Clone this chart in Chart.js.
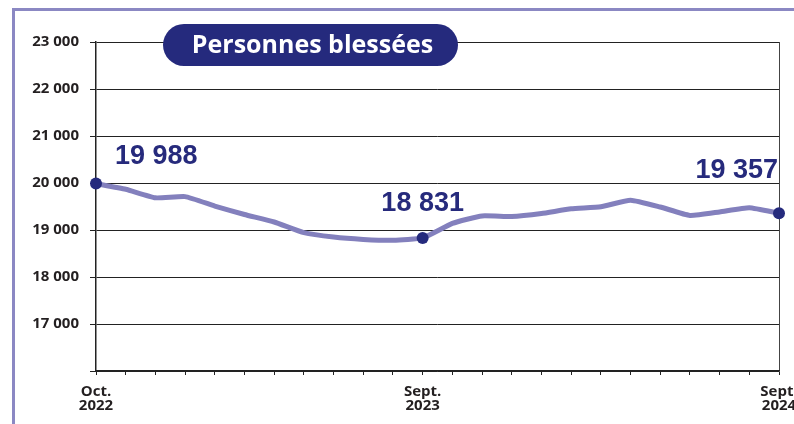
<!DOCTYPE html>
<html>
<head>
<meta charset="utf-8">
<script src="https://cdn.jsdelivr.net/npm/chart.js@4.4.1/dist/chart.umd.min.js"></script>
<style>
  html, body { margin: 0; padding: 0; background: #fff; }
  #wrap { position: relative; width: 794px; height: 424px; overflow: hidden; }
  #cadre { position: absolute; left: 12px; top: 8px; width: 800px; height: 430px;
           border-left: 3px solid #8b88c3; border-top: 3px solid #8b88c3; }
  canvas { position: absolute; left: 0; top: 0; }
</style>
</head>
<body>
<div id="wrap">
  <div id="cadre"></div>
  <canvas id="graphique" width="794" height="424"></canvas>
</div>
<script>
// Données : personnes blessées (cumul sur 12 mois glissants)
const mois = ['Oct. 2022', 'Nov. 2022', 'Déc. 2022', 'Janv. 2023', 'Févr. 2023', 'Mars 2023',
  'Avr. 2023', 'Mai 2023', 'Juin 2023', 'Juil. 2023', 'Août 2023', 'Sept. 2023',
  'Oct. 2023', 'Nov. 2023', 'Déc. 2023', 'Janv. 2024', 'Févr. 2024', 'Mars 2024',
  'Avr. 2024', 'Mai 2024', 'Juin 2024', 'Juil. 2024', 'Août 2024', 'Sept. 2024'];

const blesses = [19988, 19866, 19685, 19710, 19510, 19330, 19170, 18945, 18850, 18800, 18780, 18831,
  19140, 19300, 19285, 19350, 19450, 19495, 19635, 19490, 19310, 19385, 19475, 19357];

// libellés affichés sous l'axe
const etiquettesX = { 0: ['Oct.', '2022'], 11: ['Sept.', '2023'], 23: ['Sept.', '2024'] };
// points mis en valeur
const pointsCles = [0, 11, 23];

const titre = 'Personnes blessées';

function formatNombre(v) {
  return String(v).replace(/\B(?=(\d{3})+(?!\d))/g, ' ');
}

const pluginDecor = {
  id: 'decor',
  afterDraw(chart) {
    const c = chart.ctx;
    const meta = chart.getDatasetMeta(0);

    // valeurs des points clés
    c.save();
    c.fillStyle = '#262a7c';
    c.font = 'bold 27px "Liberation Sans", Arial, sans-serif';
    c.textBaseline = 'alphabetic';
    pointsCles.forEach((i, k) => {
      const p = meta.data[i];
      const txt = formatNombre(blesses[i]);
      if (k === 0) {
        c.textAlign = 'left';
        c.fillText(txt, p.x + 19, p.y - 20);
      } else if (k === pointsCles.length - 1) {
        c.textAlign = 'right';
        c.fillText(txt, p.x - 1, p.y - 35);
      } else {
        c.textAlign = 'center';
        c.fillText(txt, p.x, p.y - 27);
      }
    });
    c.restore();

    // cartouche du titre
    c.save();
    const x0 = 163, y0 = 24, w = 295, h = 42, r = 21;
    c.fillStyle = '#252a7d';
    c.beginPath();
    c.roundRect(x0, y0, w, h, r);
    c.fill();
    c.fillStyle = '#ffffff';
    c.font = 'bold 25px "Open Sans", sans-serif';
    c.textAlign = 'center';
    c.textBaseline = 'middle';
    c.fillText(titre, x0 + w / 2 + 2, y0 + h / 2 + 1);
    c.restore();
  }
};

const ctx = document.getElementById('graphique').getContext('2d');

new Chart(ctx, {
  type: 'line',
  data: {
    labels: mois,
    datasets: [{
      data: blesses,
      borderColor: '#8380bd',
      borderWidth: 5,
      borderJoinStyle: 'round',
      borderCapStyle: 'round',
      tension: 0.15,
      pointRadius: c => pointsCles.includes(c.dataIndex) ? 6 : 0,
      pointBackgroundColor: '#252a7d',
      pointBorderWidth: 0,
      clip: false
    }]
  },
  options: {
    responsive: false,
    animation: false,
    layout: { padding: { top: 42, right: 15, left: 0, bottom: 0 } },
    plugins: {
      legend: { display: false },
      tooltip: { enabled: false }
    },
    scales: {
      x: {
        grid: {
          color: c => c.index === mois.length - 1 ? '#444' : 'rgba(0,0,0,0)',
          tickColor: '#222',
          tickLength: 4,
          lineWidth: 1
        },
        border: { color: '#222', width: 1.5 },
        ticks: {
          autoSkip: false,
          maxRotation: 0,
          padding: 10,
          color: '#231f20',
          font: { family: '"Open Sans", sans-serif', weight: 'bold', size: 15, lineHeight: 0.9 },
          callback: (v, i) => etiquettesX[i] || ''
        },
        afterFit(scale) {
          scale.height = 53;
          scale.paddingLeft = 0;
          scale.paddingRight = 0;
        }
      },
      y: {
        min: 16000,
        max: 23000,
        grid: { color: '#222', tickColor: '#222', tickLength: 6, lineWidth: 1 },
        border: { color: '#222', width: 1.5 },
        ticks: {
          stepSize: 1000,
          padding: 11,
          color: '#231f20',
          font: { family: '"Open Sans", sans-serif', weight: 'bold', size: 15 },
          callback: v => v === 16000 ? '' : formatNombre(v)
        },
        afterFit(scale) {
          scale.width = 96;
        }
      }
    }
  },
  plugins: [pluginDecor]
});
</script>
</body>
</html>
